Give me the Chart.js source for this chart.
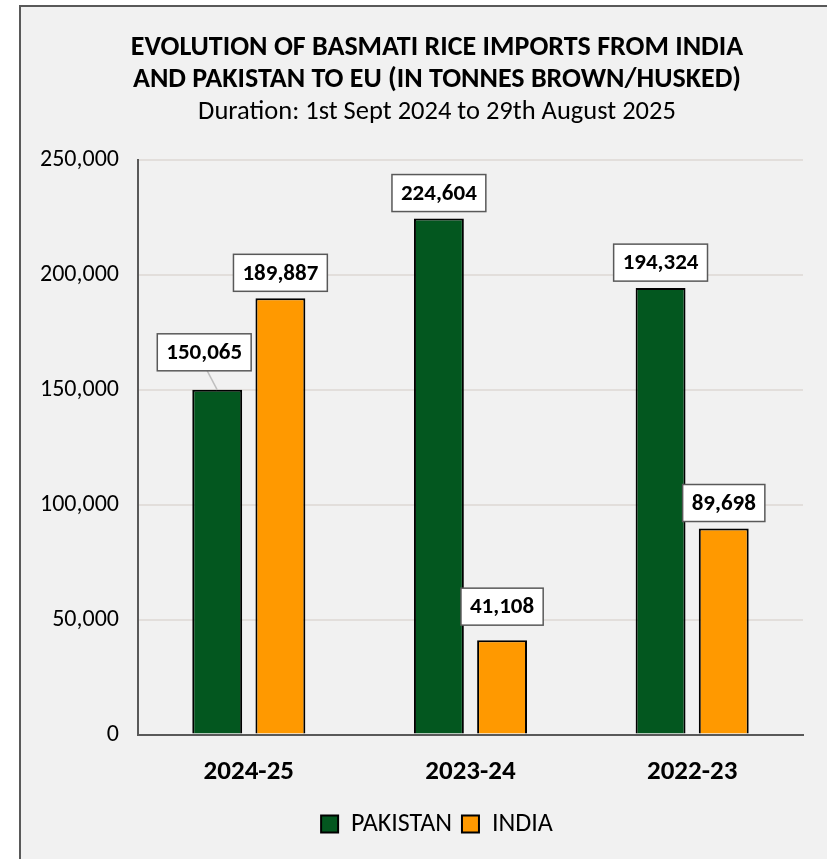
<!DOCTYPE html>
<html>
<head>
<meta charset="UTF-8">
<title>Basmati rice imports</title>
<script src="https://cdn.jsdelivr.net/npm/chart.js"></script>
<style>
  html, body { margin: 0; padding: 0; background: #fff; overflow: hidden; }
  #frame {
    position: absolute; left: 19px; top: 5px;
    width: 840px; height: 852px;
    background: #f1f1f1;
    border-left: 2px solid #595959; border-top: 2px solid #595959;
  }
</style>
</head>
<body>
<div id="frame">
  <canvas id="myChart" width="840" height="852"></canvas>
</div>

<script>
  const seasons = ['2024-25', '2023-24', '2022-23'];
  const pakistan = [150065, 224604, 194324];
  const india = [189887, 41108, 89698];

  const FONT = "Carlito, 'Liberation Sans Narrow', 'Open Sans', sans-serif";

  // label boxes drawn by hand, no datalabels plugin available offline
  const labelBoxes = {
    id: 'labelBoxes',
    afterDatasetsDraw(chart) {
      const ctx = chart.ctx;
      const shift = {
        '0-0': { dx: -13, dy: -12, line: true },
        '1-1': { dx: 0, dy: -8 }
      };
      ctx.save();
      ctx.font = 'bold 23px ' + FONT;
      ctx.textAlign = 'center';
      ctx.textBaseline = 'middle';
      chart.data.datasets.forEach((ds, di) => {
        chart.getDatasetMeta(di).data.forEach((bar, i) => {
          const txt = ds.data[i].toLocaleString('en-US');
          const s = shift[di + '-' + i] || { dx: 0, dy: 0 };
          const w = ctx.measureText(txt).width + 18;
          const h = 37;
          const cx = bar.x + s.dx;
          const bottom = bar.y - 7 + s.dy;
          if (s.line) {
            ctx.strokeStyle = '#bfbfbf';
            ctx.lineWidth = 1.5;
            ctx.beginPath();
            ctx.moveTo(cx + 3, bottom);
            ctx.lineTo(bar.x, bar.y);
            ctx.stroke();
          }
          ctx.fillStyle = '#ffffff';
          ctx.fillRect(cx - w / 2, bottom - h, w, h);
          ctx.strokeStyle = '#595959';
          ctx.lineWidth = 1.5;
          ctx.strokeRect(cx - w / 2, bottom - h, w, h);
          ctx.fillStyle = '#000';
          ctx.fillText(txt, cx, bottom - h / 2 + 1);
        });
      });
      ctx.restore();
    }
  };

  new Chart(document.getElementById('myChart'), {
    type: 'bar',
    data: {
      labels: seasons,
      datasets: [
        { label: 'PAKISTAN', data: pakistan, backgroundColor: '#03571f', borderColor: '#000', borderWidth: 2 },
        { label: 'INDIA', data: india, backgroundColor: '#ff9900', borderColor: '#000', borderWidth: 2 }
      ]
    },
    options: {
      responsive: false,
      animation: false,
      layout: { padding: { left: 0, right: 8, top: 0, bottom: 12 } },
      datasets: { bar: { categoryPercentage: 0.57, barPercentage: 0.79 } },
      scales: {
        x: {
          grid: { display: false },
          border: { color: '#595959', width: 2 },
          ticks: { color: '#000', font: { family: FONT, size: 27, weight: 'bold' }, padding: 13 }
        },
        y: {
          min: 0, max: 250000,
          ticks: {
            stepSize: 50000, color: '#000', padding: 19,
            font: { family: FONT, size: 24 },
            callback: v => v.toLocaleString('en-US')
          },
          grid: { color: '#e2dedb', lineWidth: 2, drawTicks: false },
          border: { color: '#595959', width: 2 }
        },
        // empty right-hand gutter so the plot stops short of the frame
        gutter: {
          position: 'right',
          ticks: { display: false },
          grid: { display: false },
          border: { display: false },
          afterFit: s => { s.width = 50; }
        }
      },
      plugins: {
        title: {
          display: true,
          text: ['EVOLUTION OF BASMATI RICE IMPORTS FROM INDIA', 'AND PAKISTAN TO EU (IN TONNES BROWN/HUSKED)'],
          color: '#000',
          font: { family: FONT, size: 28, weight: 'bold', lineHeight: 1.15 },
          padding: { top: 25, bottom: 0 }
        },
        subtitle: {
          display: true,
          text: 'Duration: 1st Sept 2024 to 29th August 2025',
          color: '#000',
          font: { family: FONT, size: 26.5 },
          padding: { top: 0, bottom: 32 }
        },
        legend: {
          position: 'bottom',
          labels: {
            color: '#000', boxWidth: 17, boxHeight: 17, padding: 10,
            font: { family: FONT, size: 26 }
          }
        },
        tooltip: { enabled: false }
      }
    },
    plugins: [labelBoxes]
  });
</script>
</body>
</html>
